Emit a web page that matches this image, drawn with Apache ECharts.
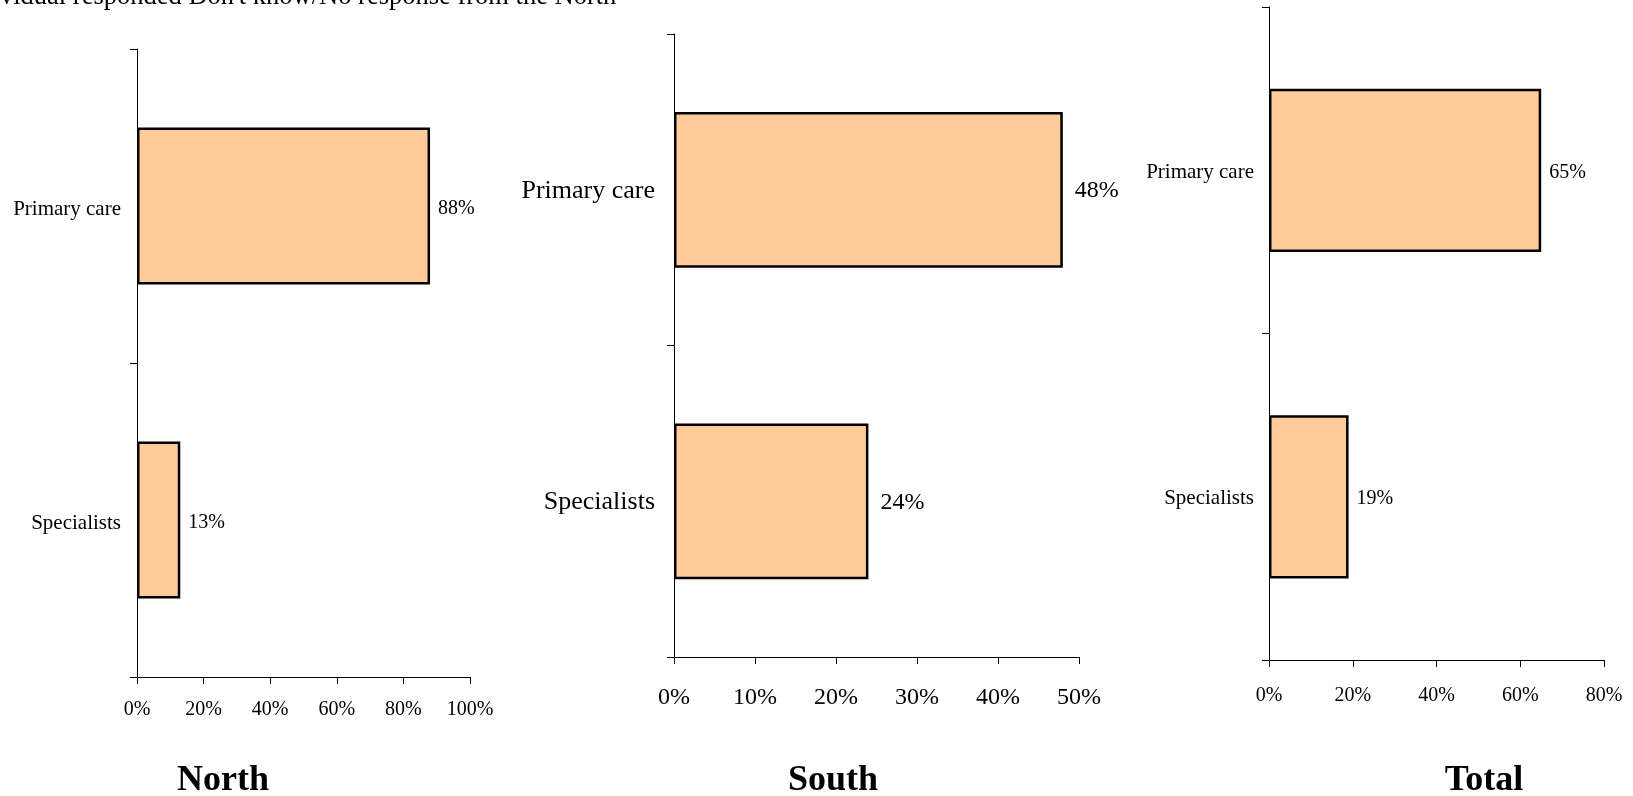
<!DOCTYPE html>
<html>
<head>
<meta charset="utf-8">
<style>
html,body{margin:0;padding:0;background:#fff;}
#chart{width:1633px;height:796px;}
</style>
<script src="https://cdn.jsdelivr.net/npm/echarts@6/dist/echarts.min.js"></script>
</head>
<body>
<div id="chart"></div>
<script>
// ---- data ----
const categories = ['Primary care', 'Specialists'];
const northValues = [88, 13];
const southValues = [48, 24];
const totalValues = [65, 19];
const panelTitles = ['North', 'South', 'Total'];
const noteText = "vidual responded Don't know/No response from the North";

const FONT = '"Liberation Serif", "Times New Roman", serif';
const chart = echarts.init(document.getElementById('chart'), null, {renderer: 'canvas'});

const panels = [
  {values: northValues, grid: {left: 137, top: 49, width: 333, height: 628}, max: 100, interval: 20, catFont: 21, valFont: 20, catMargin: 16, tickMargin: 23, labelDist: 8, titleX: 223, dy: 3},
  {values: southValues, grid: {left: 674, top: 34, width: 405, height: 623}, max: 50, interval: 10, catFont: 26, valFont: 24, catMargin: 19, tickMargin: 29, labelDist: 12, titleX: 833, dy: 1},
  {values: totalValues, grid: {left: 1269, top: 7, width: 335, height: 653}, max: 80, interval: 20, catFont: 21, valFont: 20, catMargin: 15, tickMargin: 26, labelDist: 8, titleX: 1484, dy: 2}
];

const option = {
  backgroundColor: '#fff',
  animation: false,
  grid: panels.map(p => Object.assign({containLabel: false}, p.grid)),
  xAxis: panels.map((p, i) => ({
    type: 'value', gridIndex: i, min: 0, max: p.max, interval: p.interval,
    axisLine: {show: true, lineStyle: {color: '#000', width: 1}},
    axisTick: {show: true, length: 7, inside: false, lineStyle: {color: '#000'}},
    splitLine: {show: false},
    axisLabel: {formatter: '{value}%', fontFamily: FONT, fontSize: p.valFont, color: '#000', margin: p.tickMargin}
  })),
  yAxis: panels.map((p, i) => ({
    type: 'category', gridIndex: i, data: categories, inverse: true,
    axisLine: {show: true, lineStyle: {color: '#000', width: 1}},
    axisTick: {show: true, length: 7, inside: false, alignWithLabel: false, lineStyle: {color: '#000'}},
    axisLabel: {
      fontFamily: FONT, fontSize: p.catFont, color: '#000', margin: p.catMargin,
      formatter: v => '{c|' + v + '}',
      rich: {c: {fontFamily: FONT, fontSize: p.catFont, color: '#000', padding: [p.dy * 2, 0, 0, 0]}}
    }
  })),
  series: panels.map((p, i) => ({
    type: 'bar', xAxisIndex: i, yAxisIndex: i, data: p.values, barWidth: '50%',
    itemStyle: {color: '#FFCC99', borderColor: '#000', borderWidth: 2.5},
    label: {show: true, position: 'right', distance: p.labelDist, offset: [0, p.dy], formatter: '{c}%', fontFamily: FONT, fontSize: p.valFont, color: '#000'}
  })),
  graphic: [
    {type: 'text', left: 0, top: -16, style: {text: noteText, font: '26.5px ' + FONT, fill: '#000'}}
  ].concat(panels.map((p, i) => ({
    type: 'text', x: p.titleX, y: 781,
    style: {text: panelTitles[i], font: 'bold 36px ' + FONT, fill: '#000', textAlign: 'center', textVerticalAlign: 'middle'}
  })))
};
chart.setOption(option);
</script>
</body>
</html>
